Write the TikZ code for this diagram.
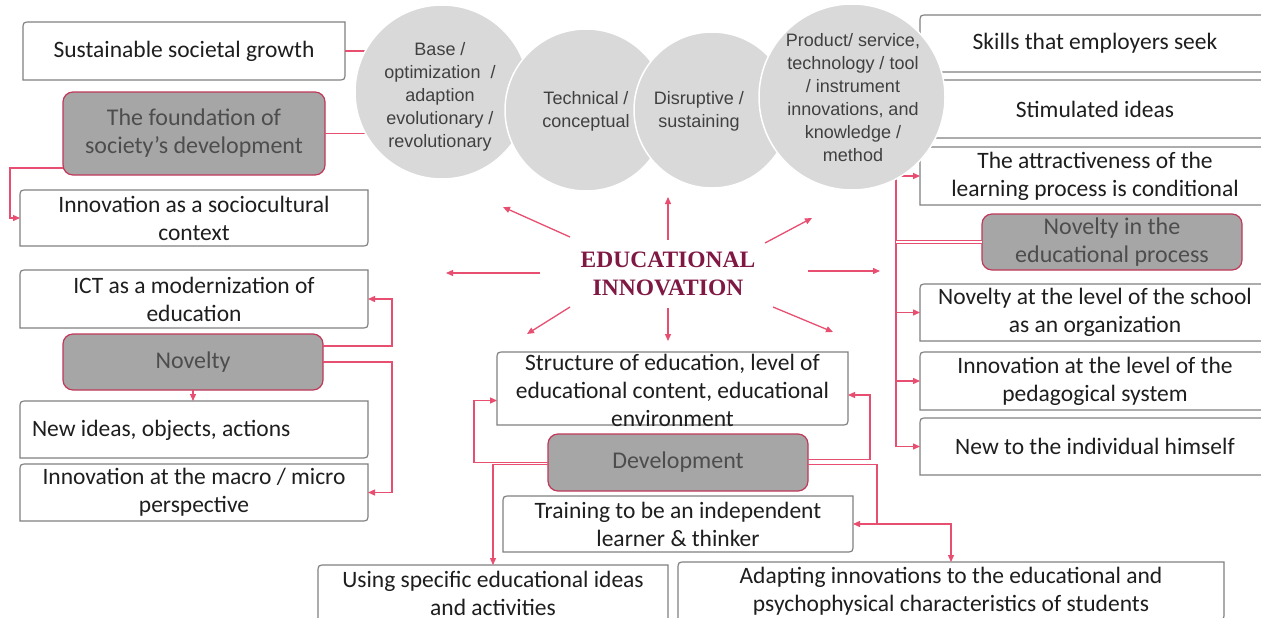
\documentclass[tikz,border=0pt]{standalone}
\usepackage{fontspec}
\setmainfont{Carlito}
\newfontfamily\arialf{Liberation Sans}
\newfontfamily\tnrf{Liberation Serif}
\usetikzlibrary{arrows.meta,calc}
\definecolor{redln}{RGB}{232,78,112}
\definecolor{boxgray}{RGB}{128,128,128}
\definecolor{fillg}{RGB}{166,166,166}
\definecolor{circg}{RGB}{217,217,217}
\definecolor{maroonc}{RGB}{128,24,68}
\definecolor{txtd}{RGB}{30,30,30}
\definecolor{txtg}{RGB}{77,77,77}
\definecolor{txtc}{RGB}{64,64,64}
\definecolor{gborder}{RGB}{192,56,90}
\newcommand\rdbox[1]{\draw[boxline] ([yshift=-8pt]#1.north west) .. controls (#1.north west) .. ([xshift=8pt]#1.north west) -- (#1.north east) -- ([yshift=8pt]#1.south east) .. controls (#1.south east) .. ([xshift=-8pt]#1.south east) -- (#1.south west) -- cycle;}
\tikzset{
 boxline/.style={draw=boxgray, line width=1.2pt},
 wbox/.style={inner sep=0pt, outer sep=0pt, align=center, font=\fontsize{23.5}{28}\selectfont, text=txtd},
 gbox/.style={draw=gborder, fill=fillg, line width=1.2pt, rounded corners=10pt, inner sep=0pt, outer sep=0pt, align=center, font=\fontsize{24}{28}\selectfont, text=txtg},
 circ/.style={circle, fill=circg, draw=white, line width=1.5pt, inner sep=0pt},
 ctext/.style={align=center, font=\arialf\fontsize{18}{23}\selectfont, text=txtc, inner sep=0pt},
 conn/.style={draw=redln, line width=1.3pt},
 arr/.style={conn, -{Triangle[length=7pt,width=6pt]}},
}
\begin{document}
\begin{tikzpicture}[x=1pt,y=-1pt]
\useasboundingbox (0,0) rectangle (1261,618);
\fill[white] (0,0) rectangle (1261,618);
\clip (0,0) rectangle (1261,618);

% left boxes
\node[wbox, minimum width=322, minimum height=58] (sus) at (184,51) {Sustainable societal growth}; \rdbox{sus}
\node[gbox, minimum width=262, minimum height=83] (fnd) at (194,133.5) {The foundation of\\society's development};
\node[wbox, minimum width=348, minimum height=56] (soc) at (194,218) {Innovation as a sociocultural\\context}; \rdbox{soc}
\node[wbox, minimum width=348, minimum height=58] (ict) at (194,299) {ICT as a modernization of\\education}; \rdbox{ict}
\node[gbox, minimum width=260, minimum height=56] (nov) at (193,362) {Novelty};
\node[wbox, minimum width=348, minimum height=57] (new) at (194,429.5) {}; \rdbox{new}
\node[wbox, anchor=west] (newt) at (32,430) {New ideas, objects, actions};
\node[wbox, minimum width=348, minimum height=57] (mac) at (194,492.5) {Innovation at the macro / micro\\perspective}; \rdbox{mac}

% right boxes
\node[wbox, minimum width=350, minimum height=57] (skl) at (1095,43.5) {Skills that employers seek}; \rdbox{skl}
\node[wbox, minimum width=350, minimum height=58] (stm) at (1095,109) {Stimulated ideas}; \rdbox{stm}
\node[wbox, minimum width=350, minimum height=58] (att) at (1095,176) {The attractiveness of the\\learning process is conditional}; \rdbox{att}
\node[gbox, minimum width=260, minimum height=56] (nep) at (1112,242) {Novelty in the\\educational process};
\node[wbox, minimum width=350, minimum height=57] (sch) at (1095,312.5) {Novelty at the level of the school\\as an organization}; \rdbox{sch}
\node[wbox, minimum width=350, minimum height=58] (ped) at (1095,381) {Innovation at the level of the\\pedagogical system}; \rdbox{ped}
\node[wbox, minimum width=350, minimum height=57] (ind) at (1095,446.5) {New to the individual himself}; \rdbox{ind}

% bottom boxes
\node[wbox, minimum width=351, minimum height=73] (strc) at (672.5,388.5) {}; \rdbox{strc}
\node[wbox] (strt) at (672.5,390) {Structure of education, level of\\educational content, educational\\environment};
\node[gbox, minimum width=260, minimum height=57] (dev) at (678,462.5) {Development};
\node[wbox, minimum width=350, minimum height=56] (trn) at (678,524) {Training to be an independent\\learner \& thinker}; \rdbox{trn}
\node[wbox, minimum width=350, minimum height=57] (use) at (493,593.5) {Using specific educational ideas\\and activities}; \rdbox{use}
\node[wbox, minimum width=546, minimum height=58] (adp) at (951,591) {Adapting innovations to the educational and\\psychophysical characteristics of students}; \rdbox{adp}

% connectors left
\draw[conn] (sus.east) -- (sus.east -| 442,0);
\draw[conn] (fnd.east) -- (fnd.east -| 442,0);
\draw[arr] ([yshift=7pt]fnd.south west) -- ++(-53,0) |- (soc.west);
\draw[arr] ([yshift=16pt]nov.east) -- ++(69,0) |- (ict.east);
\draw[arr] (nov.east) -- ++(69,0) |- (mac.east);
\draw[arr] (nov.south) -- (nov.south |- new.north);

% connectors right
\coordinate (rv) at (896,160);
\draw[arr] (rv) |- (att.west);
\draw[arr] (rv |- att.west) |- (ind.west);
\draw[arr] (rv |- sch.west) -- (sch.west);
\draw[arr] (rv |- ped.west) -- (ped.west);
\draw[draw=redln, line width=0.9pt, double=white, double distance=1.8pt] (rv |- nep.west) -- (nep.west);

% connectors bottom
\draw[arr] (dev.west) -| ([xshift=-23pt,yshift=-12pt]strc.west) -- ([yshift=-12pt]strc.west);
\draw[arr] ([yshift=-2pt]dev.west) -| (use.north);
\draw[arr] ([yshift=3pt]dev.east) -| ([xshift=22pt,yshift=-6.5pt]strc.east) -- ([yshift=-6.5pt]strc.east);
\draw[arr] ([yshift=-2pt]dev.east) -| ([xshift=24pt]trn.east) -- (trn.east);
\draw[arr] ([xshift=24pt]trn.east) -| (adp.north);

% circles
\node[circ, minimum size=174] (c1) at (442,92) {};
\node[circ, minimum size=162] (c2) at (586,110) {};
\node[circ, minimum size=156] (c3) at (712,110) {};
\node[circ, minimum size=186] (c4) at (852,97) {};
\node[ctext] (c1t) at (440,97) {Base /\\optimization~~/\\adaption\\evolutionary /\\revolutionary};
\node[ctext] (c2t) at (586,111) {Technical /\\conceptual};
\node[ctext] (c3t) at (699,111) {Disruptive /\\sustaining};
\node[ctext] (c4t) at (853,98) {Product/ service,\\technology / tool\\/ instrument\\innovations, and\\knowledge /\\method};

% center
\node[align=center, font=\tnrf\bfseries\fontsize{23.5}{28}\selectfont, text=maroonc, inner sep=0pt] (ei) at (668,274) {EDUCATIONAL\\INNOVATION};
\coordinate (s1) at (570,237); \coordinate (t1) at (503,207);
\coordinate (s2) at (668,240); \coordinate (t2) at (668,197);
\coordinate (s3) at (765,243); \coordinate (t3) at (812,218);
\coordinate (s4) at (540,273); \coordinate (t4) at (446,273);
\coordinate (s5) at (808,271); \coordinate (t5) at (880,271);
\coordinate (s6) at (570,307); \coordinate (t6) at (527,334);
\coordinate (s7) at (668,308); \coordinate (t7) at (668,341);
\coordinate (s8) at (773,307); \coordinate (t8) at (833,332);
\foreach \i in {1,...,8} {\draw[arr] (s\i) -- (t\i);}
\end{tikzpicture}
\end{document}
